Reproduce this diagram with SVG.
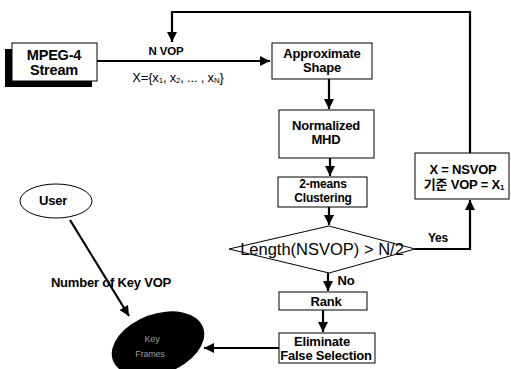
<svg xmlns="http://www.w3.org/2000/svg" width="511" height="369" viewBox="0 0 511 369">
<style>
.box{fill:#fff;stroke:#000;stroke-width:1}
.t{font-family:"Liberation Sans",Arial,"Noto Sans CJK KR",sans-serif;font-size:13px;font-weight:bold;fill:#000;text-anchor:middle;letter-spacing:-0.2px}
.c{fill:none;stroke:#000;stroke-width:2.2}
</style>
<defs>
<marker id="ah" markerUnits="userSpaceOnUse" markerWidth="12" markerHeight="12" refX="10" refY="5" orient="auto">
<path d="M0,0 L10,5 L0,10 Z" fill="#000"/>
</marker>
</defs>
<rect width="511" height="369" fill="#fff"/>
<g id="connectors">
<path class="c" d="M97,61 H270" marker-end="url(#ah)"/>
<path class="c" d="M470,153 V12 H172 V42" marker-end="url(#ah)"/>
<path class="c" d="M329,79 V109" marker-end="url(#ah)"/>
<path class="c" d="M330,158 V176" marker-end="url(#ah)"/>
<path class="c" d="M329,207 V225" marker-end="url(#ah)"/>
<path class="c" d="M328,273 V291" marker-end="url(#ah)"/>
<path class="c" d="M323,310 V332" marker-end="url(#ah)"/>
<path class="c" d="M415,249 H470 V200" marker-end="url(#ah)"/>
<path class="c" d="M279,348 H204" marker-end="url(#ah)"/>
<path class="c" d="M70,220 L129,316" marker-end="url(#ah)"/>
</g>
<g id="mpeg">
<rect x="5" y="49" width="87" height="38" fill="#000"/>
<rect class="box" x="12" y="43" width="85" height="38"/>
<text class="t" x="54" y="60" style="font-size:14.5px">MPEG-4</text>
<text class="t" x="54" y="75" style="font-size:14.5px">Stream</text>
</g>
<g id="labels">
<text class="t" x="166" y="55" style="font-size:11.5px">N VOP</text>
<text class="t" x="178" y="82" style="font-weight:normal;font-size:13px">X={x<tspan font-size="8" dy="1">1</tspan><tspan dy="-1">, x</tspan><tspan font-size="8" dy="1">2</tspan><tspan dy="-1">, ... , x</tspan><tspan font-size="8" dy="1">N</tspan><tspan dy="-1">}</tspan></text>
<text class="t" x="346" y="285">No</text>
<text class="t" x="438" y="242" style="font-size:12px">Yes</text>
<text class="t" x="111" y="287">Number of Key VOP</text>
</g>
<g id="approx">
<rect class="box" x="272" y="43" width="100" height="36"/>
<text class="t" x="322" y="58">Approximate</text>
<text class="t" x="322" y="72">Shape</text>
</g>
<g id="mhd">
<rect class="box" x="279" y="110" width="95" height="48"/>
<text class="t" x="326" y="130">Normalized</text>
<text class="t" x="326" y="144">MHD</text>
</g>
<g id="cluster">
<rect class="box" x="278" y="177" width="89" height="30"/>
<text class="t" x="323" y="188" style="font-size:12px">2-means</text>
<text class="t" x="323" y="202" style="font-size:12px">Clustering</text>
</g>
<g id="decision">
<polygon class="box" points="329,226 415,249 329,273 229,249"/>
<text class="t" x="322" y="255" style="font-size:16.5px;font-weight:normal;letter-spacing:0">Length(NSVOP) &gt; N/2</text>
</g>
<g id="rank">
<rect class="box" x="279" y="292" width="88" height="18"/>
<text class="t" x="326" y="306">Rank</text>
</g>
<g id="eliminate">
<rect class="box" x="279" y="333" width="96" height="30"/>
<text class="t" x="322" y="346">Eliminate</text>
<text class="t" x="326" y="360">False Selection</text>
</g>
<g id="nsvop">
<rect class="box" x="415" y="153" width="94" height="46"/>
<text class="t" x="463" y="174">X = NSVOP</text>
<text class="t" x="464" y="189">기준 VOP = X<tspan font-size="8" dy="1">1</tspan></text>
</g>
<g id="user">
<ellipse class="box" cx="56" cy="201" rx="36" ry="17"/>
<text class="t" x="53" y="205">User</text>
</g>
<g id="keyframes">
<ellipse cx="158" cy="344" rx="48" ry="30" transform="rotate(-20 158 344)" fill="#000"/>
<text class="t" x="152" y="342" style="fill:#999;font-size:9px;font-weight:normal">Key</text>
<text class="t" x="150" y="357" style="fill:#999;font-size:9px;font-weight:normal">Frames</text>
</g>
</svg>
